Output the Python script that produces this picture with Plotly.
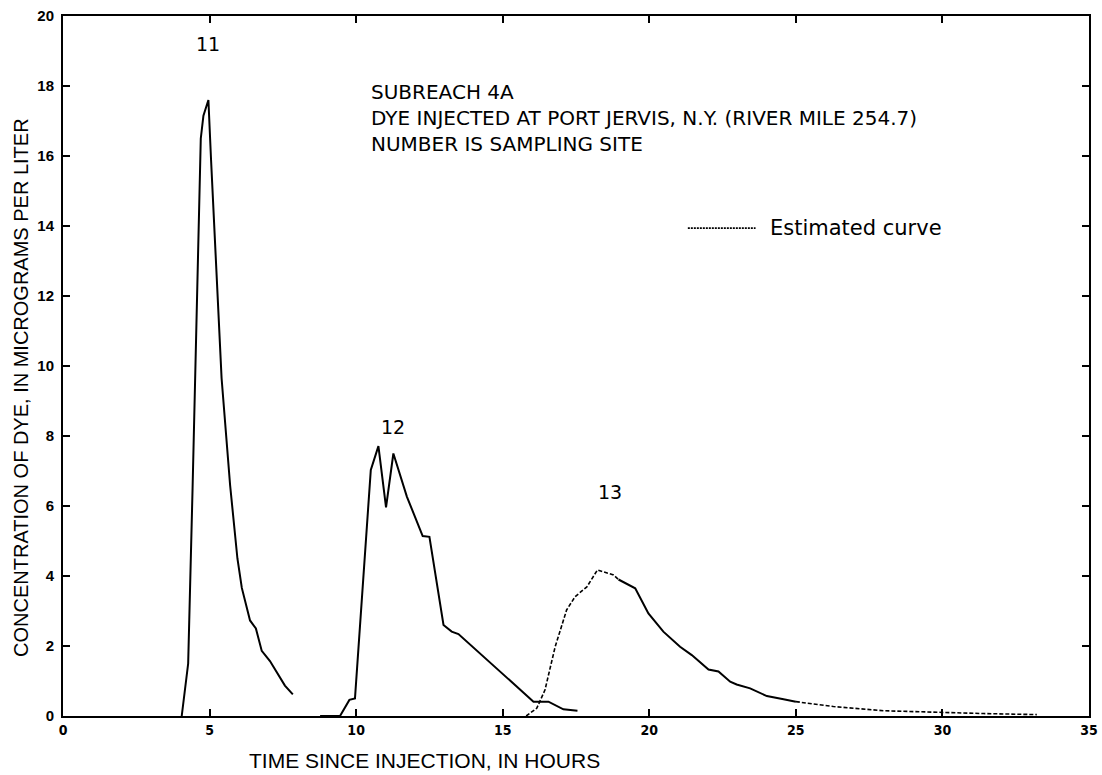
import plotly.graph_objects as go

# Site 11 (solid)
site11_t = [4.05, 4.18, 4.27, 4.42, 4.70, 4.79, 4.96, 5.05, 5.24, 5.41, 5.70, 5.95, 6.10, 6.38, 6.58, 6.78, 7.06, 7.57, 7.84]
site11_c = [0.0, 0.8, 1.5, 6.5, 16.5, 17.15, 17.6, 15.9, 12.4, 9.65, 6.6, 4.5, 3.66, 2.73, 2.5, 1.86, 1.57, 0.87, 0.62]

# Site 12 (solid)
site12_t = [8.77, 9.45, 9.77, 9.96, 10.50, 10.76, 11.02, 11.27, 11.73, 12.01, 12.27, 12.50, 12.98, 13.26, 13.49, 16.05, 16.56, 17.07, 17.55]
site12_c = [0.0, 0.0, 0.46, 0.5, 7.03, 7.71, 5.96, 7.5, 6.27, 5.7, 5.14, 5.12, 2.6, 2.41, 2.34, 0.41, 0.41, 0.19, 0.15]

# Site 13 rising limb (estimated, dashed)
site13_est1_t = [15.8, 16.16, 16.44, 16.79, 17.18, 17.47, 17.87, 18.23, 18.78, 18.95]
site13_est1_c = [0.0, 0.22, 0.74, 1.98, 3.03, 3.41, 3.69, 4.17, 4.03, 3.9]

# Site 13 measured (solid)
site13_t = [18.95, 19.52, 19.97, 20.48, 21.05, 21.45, 22.02, 22.36, 22.76, 22.98, 23.44, 24.01, 24.58, 25.0]
site13_c = [3.9, 3.65, 2.93, 2.41, 1.98, 1.74, 1.33, 1.27, 0.98, 0.9, 0.79, 0.57, 0.48, 0.41]

# Site 13 tail (estimated, dashed)
site13_est2_t = [25.0, 26.28, 27.99, 29.92, 31.4, 33.22]
site13_est2_c = [0.41, 0.27, 0.15, 0.1, 0.07, 0.04]

x_ticks = [0, 5, 10, 15, 20, 25, 30, 35]
y_ticks = [0, 2, 4, 6, 8, 10, 12, 14, 16, 18, 20]

site_labels = ["11", "12", "13"]
site_label_t = [4.95, 11.26, 18.66]
site_label_c = [19.2, 8.25, 6.4]

SOLID = dict(color="black", width=2)
DASH = dict(color="black", width=1.6, dash="4px,2px")

fig = go.Figure()
fig.add_trace(go.Scatter(x=site11_t, y=site11_c, mode="lines", line=SOLID, showlegend=False))
fig.add_trace(go.Scatter(x=site12_t, y=site12_c, mode="lines", line=SOLID, showlegend=False))
fig.add_trace(go.Scatter(x=site13_est1_t, y=site13_est1_c, mode="lines", line=DASH, showlegend=False))
fig.add_trace(go.Scatter(x=site13_t, y=site13_c, mode="lines", line=SOLID, showlegend=False))
fig.add_trace(go.Scatter(x=site13_est2_t, y=site13_est2_c, mode="lines", line=DASH, showlegend=False))

FONT = "DejaVu Sans, Arial, sans-serif"
TITLEFONT = "Liberation Sans, Arial, sans-serif"

for lab, t, c in zip(site_labels, site_label_t, site_label_c):
    fig.add_annotation(x=t, y=c, text=lab, showarrow=False, xref="x", yref="y",
                       font=dict(family=FONT, size=19, color="black"))

fig.add_annotation(x=0.298, y=0.911, xref="paper", yref="paper", xanchor="left", yanchor="top",
                   align="left", showarrow=False,
                   text="SUBREACH 4A<br>DYE INJECTED AT PORT JERVIS, N.Y. (RIVER MILE 254.7)<br>NUMBER IS SAMPLING SITE",
                   font=dict(family=FONT, size=20, color="black"))

# legend for estimated curve
fig.add_shape(type="line", xref="paper", yref="paper", x0=0.609, x1=0.675, y0=0.697, y1=0.697,
              line=dict(color="black", width=1.6, dash="2px,1px"))
fig.add_annotation(x=0.687, y=0.697, xref="paper", yref="paper", xanchor="left", yanchor="middle",
                   showarrow=False, text="Estimated curve",
                   font=dict(family=FONT, size=21, color="black"))

fig.add_annotation(x=0.352, y=-0.063, xref="paper", yref="paper", xanchor="center", yanchor="middle",
                   showarrow=False, text="TIME SINCE INJECTION, IN HOURS",
                   font=dict(family=TITLEFONT, size=21, color="black"))
fig.add_annotation(x=-0.041, y=0.47, xref="paper", yref="paper", xanchor="center", yanchor="middle",
                   showarrow=False, textangle=-90, text="CONCENTRATION OF DYE, IN MICROGRAMS PER LITER",
                   font=dict(family=TITLEFONT, size=20, color="black"))

fig.update_xaxes(range=[0, 35], tickvals=x_ticks, ticktext=[str(v) for v in x_ticks],
                 ticks="inside", ticklen=7, tickwidth=1.5, tickcolor="black",
                 showline=True, linecolor="black", linewidth=2, mirror="ticks",
                 showgrid=False, zeroline=False, automargin=False,
                 tickfont=dict(family="DejaVu Sans Condensed, Arial, sans-serif", size=14, color="black", weight="bold"))
fig.update_yaxes(range=[0, 20], tickvals=y_ticks, ticktext=[str(v) for v in y_ticks],
                 ticks="inside", ticklen=7, tickwidth=1.5, tickcolor="black",
                 showline=True, linecolor="black", linewidth=2, mirror="ticks",
                 showgrid=False, zeroline=False, ticklabelstandoff=4, automargin=False,
                 tickfont=dict(family="Liberation Sans, Arial, sans-serif", size=15, color="black", weight="bold"))

fig.update_layout(width=1102, height=775, margin=dict(l=63, r=13, t=16, b=59),
                  plot_bgcolor="white", paper_bgcolor="white", showlegend=False)

fig.write_html("out.html")
